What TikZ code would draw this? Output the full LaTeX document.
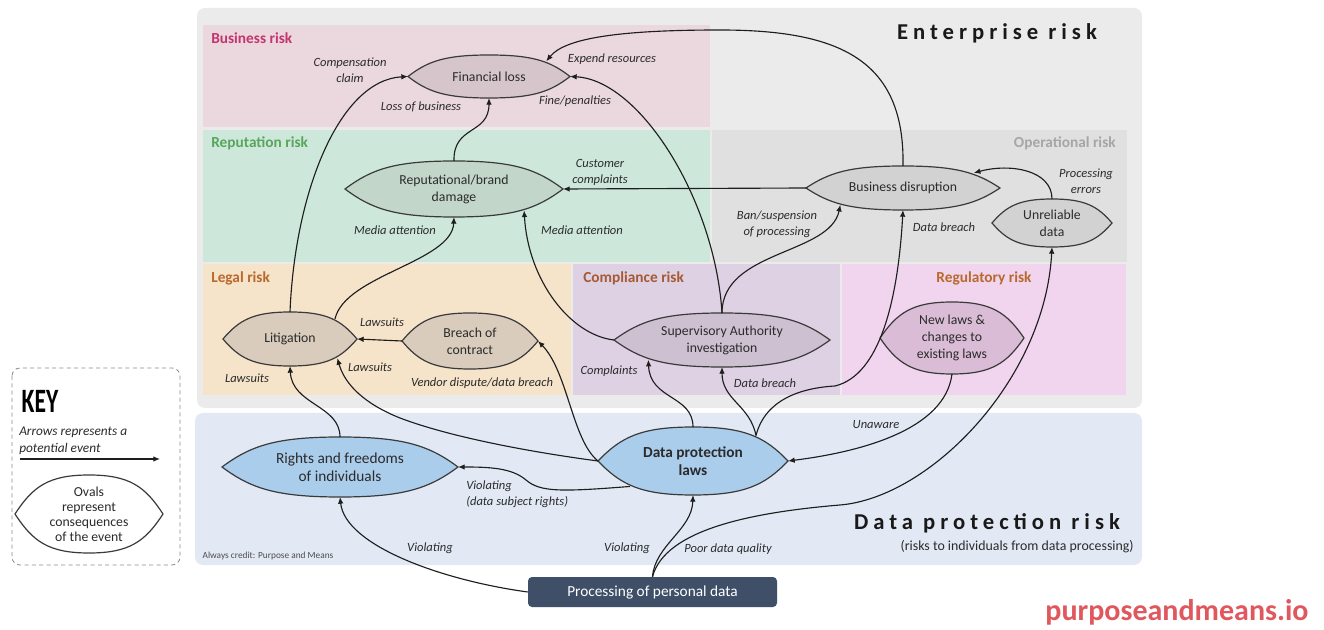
\documentclass[tikz,border=0pt]{standalone}
\usepackage{fontspec}
\usepackage{graphicx}
\setmainfont{Carlito}
\newfontfamily\titlefont[LetterSpace=22]{Carlito}
\usetikzlibrary{shapes.geometric,arrows.meta,calc}

% palette
\definecolor{entbg}{HTML}{EBEBEB}
\definecolor{bizbg}{HTML}{EBD7DE}
\definecolor{repbg}{HTML}{CDE8DA}
\definecolor{opbg}{HTML}{E0E0E0}
\definecolor{legbg}{HTML}{F5E3CA}
\definecolor{compbg}{HTML}{DDD1E3}
\definecolor{regbg}{HTML}{F1D4EE}
\definecolor{dpbg}{HTML}{E3E9F4}
\definecolor{bizlbl}{HTML}{C4356E}
\definecolor{replbl}{HTML}{5AA55E}
\definecolor{oplbl}{HTML}{A6A6A6}
\definecolor{leglbl}{HTML}{B9692C}
\definecolor{complbl}{HTML}{A65A33}
\definecolor{ovalline}{HTML}{3A3A3A}
\definecolor{linec}{HTML}{1E1E1E}
\definecolor{txtc}{HTML}{2B2B2B}
\definecolor{procfill}{HTML}{3E4F67}
\definecolor{brandc}{HTML}{E0585D}
\definecolor{finfill}{HTML}{D6C6CC}
\definecolor{repfill}{HTML}{C3D6CA}
\definecolor{opfill}{HTML}{D2D2D2}
\definecolor{legfill}{HTML}{D9CCBD}
\definecolor{compfill}{HTML}{CDC0D1}
\definecolor{regfill}{HTML}{DABCD6}
\definecolor{dpfill}{HTML}{ABCDEC}

\tikzset{
  ovaledge/.style={draw=ovalline, line width=0.9pt},
  ovaltext/.style={ellipse, draw=none, inner sep=0pt, outer sep=0pt, align=center,
    text=txtc, font=\fontsize{10.3}{12.75}\selectfont},
  bigtext/.style={font=\fontsize{11.5}{13.5}\selectfont},
  conn/.style={draw=linec, line width=0.85pt, -{Latex[length=5pt,width=4.2pt]}},
  lbl/.style={align=center, inner sep=0pt, text=txtc,
    font=\fontsize{9.4}{12}\selectfont\itshape},
  reglbl/.style={anchor=west, inner sep=0pt, font=\fontsize{11.5}{13}\selectfont\bfseries},
  titletxt/.style={inner sep=0pt, text=black!90, font=\fontsize{17}{20}\titlefont\bfseries},
  procbox/.style={rectangle, rounded corners=3pt, fill=procfill, text=white, inner sep=0pt,
    minimum width=186.75pt, minimum height=22.5pt, font=\fontsize{11.5}{13.5}\selectfont},
}

% lens-shaped oval: name, cx, cy, half width, half height, fill, extra style, text
\newcommand\lensnode[8]{%
  \filldraw[ovaledge, fill=#6]
    (#2-#4,#3) .. controls (#2-0.76*#4,#3-0.7*#5) and (#2-0.55*#4,#3-#5) .. (#2,#3-#5)
    .. controls (#2+0.55*#4,#3-#5) and (#2+0.76*#4,#3-0.7*#5) .. (#2+#4,#3)
    .. controls (#2+0.76*#4,#3+0.7*#5) and (#2+0.55*#4,#3+#5) .. (#2,#3+#5)
    .. controls (#2-0.55*#4,#3+#5) and (#2-0.76*#4,#3+0.7*#5) .. cycle;
  \node[ovaltext, minimum width=1.5pt*#4, minimum height=1.5pt*#5, #7] (#1) at (#2,#3) {#8};
}

\begin{document}
\begin{tikzpicture}[x=0.75pt, y=-0.75pt]
\useasboundingbox (0,0) rectangle (1324,630);
\fill[white] (0,0) rectangle (1324,630);

% risk areas
\fill[entbg, rounded corners=6pt] (197,8) rectangle (1142,408);
\fill[bizbg] (203,25) rectangle (710,127);
\fill[repbg] (203,130) rectangle (710,262);
\fill[opbg] (712,130) rectangle (1127,262);
\fill[legbg] (203,264) rectangle (571,395);
\fill[compbg] (573,264) rectangle (840,395);
\fill[regbg] (842,264) rectangle (1126,395);
\fill[dpbg, rounded corners=6pt] (195,413) rectangle (1142,565);

% area titles
\node[reglbl, text=bizlbl] (rbiz) at (211,38) {Business risk};
\node[reglbl, text=replbl] (rrep) at (211,143) {Reputation risk};
\node[reglbl, text=oplbl, anchor=east] (rop) at (1116,143) {Operational risk};
\node[reglbl, text=leglbl] (rleg) at (211,278) {Legal risk};
\node[reglbl, text=complbl] (rcomp) at (583,278) {Compliance risk};
\node[reglbl, text=leglbl, anchor=center] (rreg) at (984,278) {Regulatory risk};
\node[titletxt] (tent) at (997,33) {Enterprise risk};
\node[titletxt] (tdp) at (987,523) {Data protection risk};
\node[inner sep=0pt, anchor=east, text=txtc, font=\fontsize{10.4}{12}\selectfont] (tdpsub) at (1134,547)
  {(risks to individuals from data processing)};
\node[inner sep=0pt, text=black!70, font=\fontsize{7}{8}\selectfont] (credit) at (268,556)
  {Always credit: Purpose and Means};
\node[inner sep=0pt, text=brandc, font=\fontsize{22.5}{24}\selectfont\bfseries] (brand) at (1177,612)
  {purposeandmeans.io};

% consequences
\lensnode{fin}{489}{76.5}{81}{21.5}{finfill}{}{Financial loss}
\lensnode{rep}{454}{189}{109}{28}{repfill}{}{Reputational/brand\\damage}
\lensnode{bdis}{903}{188}{97}{22}{opfill}{}{Business disruption}
\lensnode{unrel}{1052}{223}{60}{24}{opfill}{}{Unreliable\\data}
\lensnode{lit}{290}{339}{67}{27}{legfill}{}{Litigation}
\lensnode{breach}{470}{341}{68}{28}{legfill}{}{Breach of\\contract}
\lensnode{sai}{722}{340}{108}{27}{compfill}{}{Supervisory Authority\\investigation}
\lensnode{newlaws}{952}{338}{72}{36}{regfill}{}{New laws \&\\changes to\\existing laws}
\lensnode{rights}{340}{467}{118}{30}{dpfill}{bigtext}{Rights and freedoms\\of individuals}
\lensnode{dpl}{693}{461}{95}{34}{dpfill}{bigtext}{\bfseries Data protection\\\bfseries laws}
\node[procbox] (proc) at (652.5,592) {Processing of personal data};

% events
\draw[conn] (lit.north) .. controls (295,190) and (340,80) .. (fin.west);
\draw[conn] (rep.north) .. controls (453,125) and (489,135) .. (fin.south);
\draw[conn] (sai.north) .. controls (715,200) and (640,80) .. (fin.east);
\draw[conn] (bdis.north) .. controls (905,60) and (840,30) .. (720,30)
  .. controls (620,30) and (565,38) .. (fin.north east);
\draw[conn] (bdis.west) -- (rep.east);
\draw[conn] (lit.24) .. controls (345,275) and (452,262) .. (rep.south);
\draw[conn] (sai.west) .. controls (570,335) and (528,280) .. (rep.-17);
\draw[conn] (sai.north) .. controls (722,250) and (830,255) .. (bdis.-165);
\draw[conn] (dpl.22) .. controls (765,400) and (800,388) .. (835,386)
  .. controls (880,375) and (898,300) .. (bdis.south);
\draw[conn] (unrel.north) .. controls (1052,170) and (1010,163) .. (bdis.12);
\draw[conn] (proc.north) .. controls (665,530) and (750,512.5) .. (840,505)
  .. controls (930,497.5) and (1045,380) .. (unrel.south);
\draw[conn] (proc.north) .. controls (655,545) and (692,530) .. (dpl.south);
\draw[conn] (proc.west) .. controls (440,580) and (345,545) .. (rights.south);
\draw[conn] (dpl.-158) .. controls (560,492) and (540,492) .. (526,480)
  .. controls (512,468) and (490,467) .. (rights.east);
\draw[conn] (rights.north) .. controls (340,405) and (292,405) .. (lit.south);
\draw[conn] (dpl.west) .. controls (530,452) and (450,437) .. (400,418)
  .. controls (365,404) and (345,385) .. (lit.-22);
\draw[conn] (breach.west) -- (lit.east);
\draw[conn] (dpl.west) .. controls (572,440) and (568,372) .. (breach.east);
\draw[conn] (dpl.north) .. controls (693,395) and (650,400) .. (sai.-165);
\draw[conn] (dpl.22) .. controls (750,405) and (722,400) .. (sai.south);
\draw[conn] (newlaws.south) .. controls (945,430) and (860,452) .. (dpl.east);

% event labels
\node[lbl] (lb1) at (350,70) {Compensation\\claim};
\node[lbl] (lb2) at (421,107) {Loss of business};
\node[lbl] (lb3) at (612,59) {Expend resources};
\node[lbl] (lb4) at (575,101) {Fine/penalties};
\node[lbl] (lb5) at (600,172) {Customer\\complaints};
\node[lbl] (lb6) at (395,230) {Media attention};
\node[lbl] (lb7) at (582,230) {Media attention};
\node[lbl] (lb8) at (777,224) {Ban/suspension\\of processing};
\node[lbl] (lb9) at (944,227) {Data breach};
\node[lbl] (lb10) at (1086,181) {Processing\\errors};
\node[lbl] (lb11) at (382,322) {Lawsuits};
\node[lbl] (lb12) at (370,367) {Lawsuits};
\node[lbl] (lb13) at (247,378) {Lawsuits};
\node[lbl] (lb14) at (482,383) {Vendor dispute/data breach};
\node[lbl] (lb15) at (609,371) {Complaints};
\node[lbl] (lb16) at (765,383) {Data breach};
\node[lbl] (lb17) at (876,425) {Unaware};
\node[lbl, anchor=west, align=left] (lb18) at (466,494) {Violating\\(data subject rights)};
\node[lbl] (lb19) at (430,548) {Violating};
\node[lbl] (lb20) at (627,548) {Violating};
\node[lbl] (lb21) at (728,549) {Poor data quality};

% key
\draw[black!45, dashed, dash pattern=on 3pt off 2.5pt, line width=0.6pt, rounded corners=6pt]
  (12,368) rectangle (180,565);
\node[inner sep=0pt, font=\fontsize{25.6}{26}\selectfont\bfseries] (keyt) at (40,401)
  {\scalebox{0.69}[1]{KEY}};
\node[lbl, anchor=west, align=left, font=\fontsize{10}{12.75}\selectfont\itshape] (keyarr) at (19,441)
  {Arrows represents a\\potential event};
\coordinate (ka) at (20,459);
\coordinate (kb) at (160,459);
\draw[conn] (ka) -- (kb);
\lensnode{keyoval}{89}{514}{74}{39}{white}{font=\fontsize{10.3}{11.25}\selectfont}{Ovals\\represent\\consequences\\of the event}
\end{tikzpicture}
\end{document}
